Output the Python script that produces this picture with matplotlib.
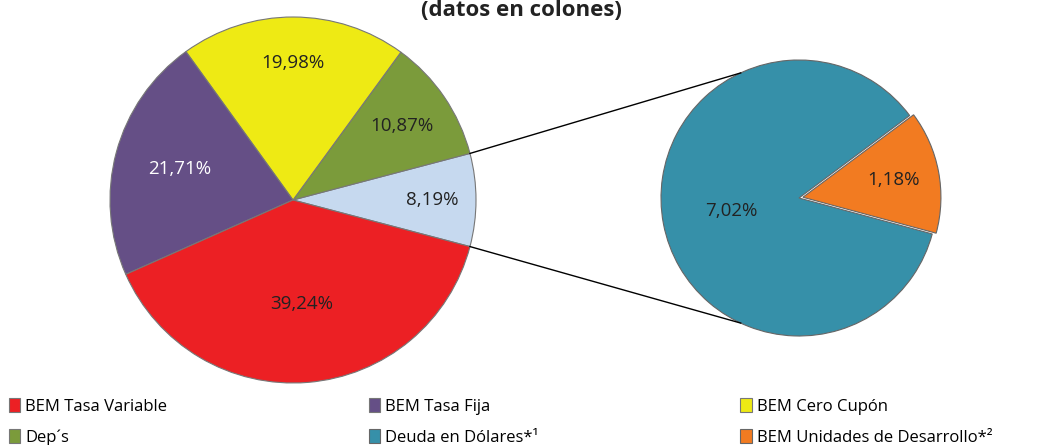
import numpy as np
import matplotlib.pyplot as plt

# main pie (counterclockwise from the "other" slice)
main_labels = ["Otros", "Dep´s", "BEM Cero Cupón", "BEM Tasa Fija", "BEM Tasa Variable"]
main_values = [8.19, 10.87, 19.98, 21.71, 39.24]
main_colors = ["#c6d9ef", "#7b9b3b", "#eeea14", "#654f86", "#ec2024"]
main_text = ["#222222", "#222222", "#222222", "#ffffff", "#222222"]

# secondary pie (breakdown of "Otros")
sub_labels = ["Deuda en Dólares*¹", "BEM Unidades de Desarrollo*²"]
sub_values = [7.02, 1.18]
sub_colors = ["#3690a9", "#f27b21"]

legend_order = ["BEM Tasa Variable", "BEM Tasa Fija", "BEM Cero Cupón",
                "Dep´s", "Deuda en Dólares*¹", "BEM Unidades de Desarrollo*²"]

plt.rcParams['font.family'] = ['Open Sans', 'DejaVu Sans']

fig = plt.figure(figsize=(10.45, 4.45), dpi=100)
ax = fig.add_axes([0, 0, 1, 1])


def fmt(v):
    return f"{v:.2f}".replace(".", ",") + "%"


half = main_values[0] / sum(main_values) * 360 / 2
main_c, main_r = (293, 245), 183
wedges, _ = ax.pie(main_values, colors=main_colors, startangle=-half,
                   center=main_c, radius=main_r, counterclock=True,
                   wedgeprops=dict(edgecolor="#777777", linewidth=0.8), frame=True)
dists = [0.76, 0.72, 0.75, 0.64, 0.57]
for w, v, d, tc in zip(wedges, main_values, dists, main_text):
    a = np.deg2rad((w.theta1 + w.theta2) / 2)
    ax.text(main_c[0] + d * main_r * np.cos(a), main_c[1] + d * main_r * np.sin(a),
            fmt(v), ha='center', va='center', fontsize=13.5, color=tc)

sub_c, sub_r = (799, 247), 138
sw, _ = ax.pie(sub_values, colors=sub_colors, startangle=36.7, counterclock=True,
               center=sub_c, radius=sub_r, explode=[0, 4],
               wedgeprops=dict(edgecolor="#666666", linewidth=0.8), frame=True)
for w, v, d in zip(sw, sub_values, [0.5, 0.7]):
    a = np.deg2rad((w.theta1 + w.theta2) / 2)
    ax.text(sub_c[0] + d * sub_r * np.cos(a), sub_c[1] + d * sub_r * np.sin(a),
            fmt(v), ha='center', va='center', fontsize=13.5, color="#222222")

ax.set_xlim(0, 1045)
ax.set_ylim(0, 445)
ax.set_aspect('equal')
ax.axis('off')

# connector lines
for sgn in (1, -1):
    a1 = np.deg2rad(sgn * half)
    a2 = np.deg2rad(sgn * 115)
    ax.plot([main_c[0] + main_r * np.cos(a1), sub_c[0] + sub_r * np.cos(a2)],
            [main_c[1] + main_r * np.sin(a1), sub_c[1] + sub_r * np.sin(a2)],
            color="black", lw=1)

ax.text(521, 445, "(datos en colones)", ha='center', va='top',
        fontsize=16, fontweight='bold', color="#222222")

# legend filled row by row (matplotlib fills columns first)
handles = dict(zip(main_labels + sub_labels, list(wedges) + list(sw)))
idx = [0, 3, 1, 4, 2, 5]
names = [legend_order[i] for i in idx]
fig.legend([handles[k] for k in names], names, ncol=3,
           loc='lower left', bbox_to_anchor=(-0.006, -0.035, 0.97, 0.14),
           mode='expand', frameon=False, fontsize=12, handlelength=0.7,
           handleheight=0.9, handletextpad=0.3, labelspacing=0.85)

fig.savefig("out.png", dpi=100)
